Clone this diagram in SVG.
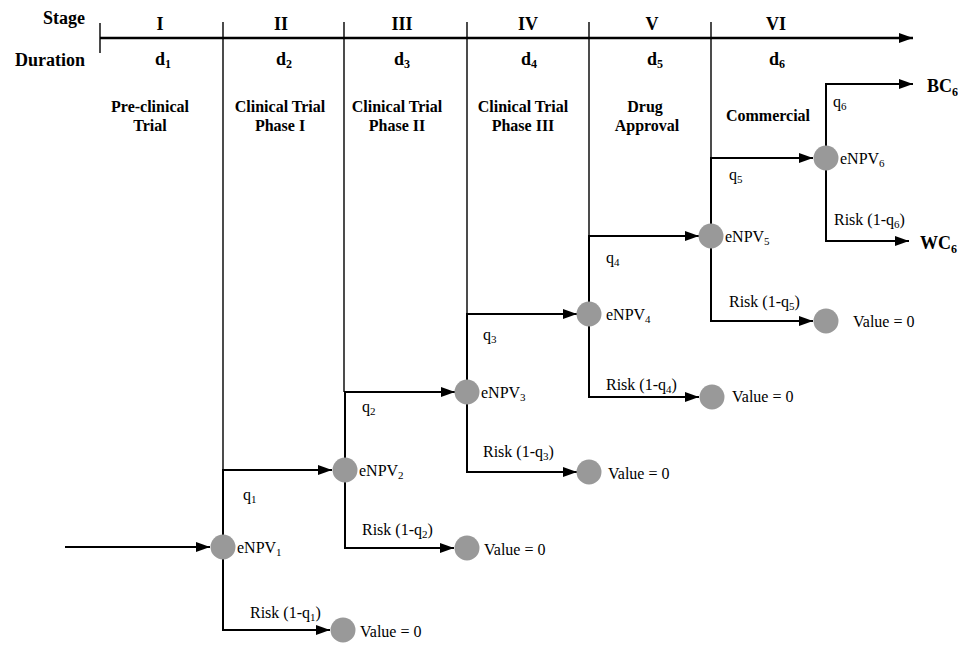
<svg xmlns="http://www.w3.org/2000/svg" width="958" height="646" viewBox="0 0 958 646">
<defs>
<style>
.b{font-family:"Liberation Serif","Times New Roman",serif;font-weight:bold;fill:#000}
.h{font-size:18px}
.s{font-size:16px;text-anchor:middle}
.t{font-family:"Liberation Serif","Times New Roman",serif;font-size:16px;fill:#000}
.c{stroke:#000;stroke-width:2;fill:none}
.d{stroke:#000;stroke-width:1.4;fill:none}
.n{fill:#999999}
</style>
<marker id="ah" markerUnits="userSpaceOnUse" markerWidth="14" markerHeight="10" refX="14" refY="5" orient="auto">
<path d="M0,0 L14,5 L0,10 z" fill="#000"/>
</marker>
</defs>
<rect width="958" height="646" fill="#fff"/>
<g id="header">
<text class="b h" x="85" y="24" text-anchor="end">Stage</text>
<text class="b h" x="85" y="66" text-anchor="end">Duration</text>
<path d="M100,38 H913" stroke="#000" stroke-width="2.6" marker-end="url(#ah)"/>
<path class="d" d="M100,23 V53 M223,22 V470 M344,22 V392 M467,22 V314 M589,22 V236 M711,22 V158"/>
<g class="b h" text-anchor="middle">
<text x="160" y="30">I</text>
<text x="281" y="30">II</text>
<text x="402" y="30">III</text>
<text x="528" y="30">IV</text>
<text x="652" y="30">V</text>
<text x="776" y="30">VI</text>
<text x="163" y="65">d<tspan font-size="12" dy="3">1</tspan></text>
<text x="284" y="65">d<tspan font-size="12" dy="3">2</tspan></text>
<text x="402" y="65">d<tspan font-size="12" dy="3">3</tspan></text>
<text x="529" y="65">d<tspan font-size="12" dy="3">4</tspan></text>
<text x="655" y="65">d<tspan font-size="12" dy="3">5</tspan></text>
<text x="777" y="65">d<tspan font-size="12" dy="3">6</tspan></text>
</g>
<g class="b s">
<text x="150" y="112">Pre-clinical</text>
<text x="150" y="131">Trial</text>
<text x="280" y="112">Clinical Trial</text>
<text x="280" y="131">Phase I</text>
<text x="397" y="112">Clinical Trial</text>
<text x="397" y="131">Phase II</text>
<text x="523" y="112">Clinical Trial</text>
<text x="523" y="131">Phase III</text>
<text x="645" y="112">Drug</text>
<text x="647" y="131">Approval</text>
<text x="768" y="121">Commercial</text>
</g>
</g>
<g id="connectors" class="c">
<path d="M65,547 H210" marker-end="url(#ah)"/>
<path d="M223,547 V470 H332" marker-end="url(#ah)"/>
<path d="M223,547 V630 H330" marker-end="url(#ah)"/>
<path d="M345,470 V392 H455" marker-end="url(#ah)"/>
<path d="M345,470 V548 H454" marker-end="url(#ah)"/>
<path d="M467,392 V314 H577" marker-end="url(#ah)"/>
<path d="M467,392 V472 H577" marker-end="url(#ah)"/>
<path d="M589,314 V236 H699" marker-end="url(#ah)"/>
<path d="M589,314 V397 H699" marker-end="url(#ah)"/>
<path d="M711,236 V158 H813" marker-end="url(#ah)"/>
<path d="M711,236 V321 H813" marker-end="url(#ah)"/>
<path d="M826,158 V84 H913" marker-end="url(#ah)"/>
<path d="M826,158 V241 H909" marker-end="url(#ah)"/>
</g>
<g id="labels" class="t">
<text x="243" y="500">q<tspan font-size="11" dy="3">1</tspan></text>
<text x="250" y="618">Risk (1-q<tspan font-size="11" dy="3">1</tspan><tspan dy="-3">)</tspan></text>
<text x="362" y="412">q<tspan font-size="11" dy="3">2</tspan></text>
<text x="362" y="535">Risk (1-q<tspan font-size="11" dy="3">2</tspan><tspan dy="-3">)</tspan></text>
<text x="483" y="340">q<tspan font-size="11" dy="3">3</tspan></text>
<text x="483" y="457">Risk (1-q<tspan font-size="11" dy="3">3</tspan><tspan dy="-3">)</tspan></text>
<text x="606" y="263">q<tspan font-size="11" dy="3">4</tspan></text>
<text x="606" y="390">Risk (1-q<tspan font-size="11" dy="3">4</tspan><tspan dy="-3">)</tspan></text>
<text x="729" y="180">q<tspan font-size="11" dy="3">5</tspan></text>
<text x="729" y="307">Risk (1-q<tspan font-size="11" dy="3">5</tspan><tspan dy="-3">)</tspan></text>
<text x="833" y="107">q<tspan font-size="11" dy="3">6</tspan></text>
<text x="834" y="225">Risk (1-q<tspan font-size="11" dy="3">6</tspan><tspan dy="-3">)</tspan></text>
</g>
<g id="node1"><circle class="n" cx="223" cy="547" r="12.5"/><text class="t" x="237" y="553">eNPV<tspan font-size="11" dy="3">1</tspan></text></g>
<g id="node2"><circle class="n" cx="345" cy="470" r="12.5"/><text class="t" x="359" y="476">eNPV<tspan font-size="11" dy="3">2</tspan></text></g>
<g id="node3"><circle class="n" cx="467" cy="392" r="12.5"/><text class="t" x="481" y="398">eNPV<tspan font-size="11" dy="3">3</tspan></text></g>
<g id="node4"><circle class="n" cx="589" cy="314" r="12.5"/><text class="t" x="606" y="320">eNPV<tspan font-size="11" dy="3">4</tspan></text></g>
<g id="node5"><circle class="n" cx="711" cy="236" r="12.5"/><text class="t" x="725" y="242">eNPV<tspan font-size="11" dy="3">5</tspan></text></g>
<g id="node6"><circle class="n" cx="826" cy="158" r="12.5"/><text class="t" x="840" y="164">eNPV<tspan font-size="11" dy="3">6</tspan></text></g>
<g id="value1"><circle class="n" cx="343" cy="630" r="12.5"/><text class="t" x="360" y="637">Value = 0</text></g>
<g id="value2"><circle class="n" cx="467" cy="548" r="12.5"/><text class="t" x="484" y="555">Value = 0</text></g>
<g id="value3"><circle class="n" cx="589" cy="472" r="12.5"/><text class="t" x="608" y="479">Value = 0</text></g>
<g id="value4"><circle class="n" cx="712" cy="397" r="12.5"/><text class="t" x="732" y="402">Value = 0</text></g>
<g id="value5"><circle class="n" cx="826" cy="321" r="12.5"/><text class="t" x="853" y="327">Value = 0</text></g>
<g id="bc6"><text class="b h" x="927" y="92">BC<tspan font-size="12" dy="4">6</tspan></text></g>
<g id="wc6"><text class="b h" x="920" y="249">WC<tspan font-size="12" dy="4">6</tspan></text></g>
</svg>
